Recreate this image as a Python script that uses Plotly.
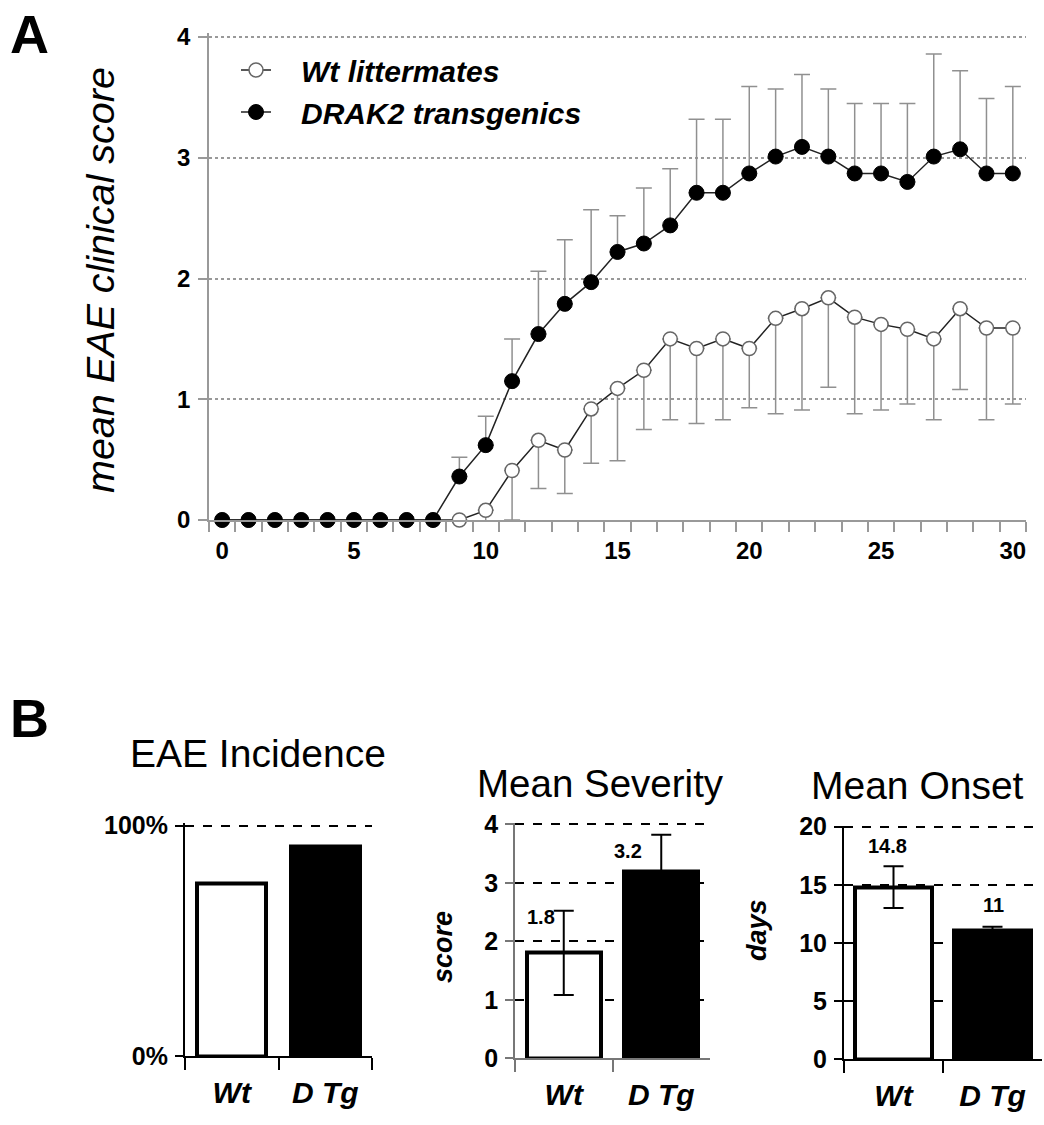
import plotly.graph_objects as go

FONT = "Liberation Sans, Arial, Helvetica, sans-serif"
W, H = 1044, 1125

# ---------------- Panel A data ----------------
days = list(range(31))
wt_mean = [0, 0, 0, 0, 0, 0, 0, 0, 0,
           0.00, 0.08, 0.41, 0.66, 0.58, 0.92, 1.09, 1.24, 1.50, 1.42, 1.50, 1.42,
           1.67, 1.75, 1.84, 1.68, 1.62, 1.58, 1.50, 1.75, 1.59, 1.59]
wt_lower = [None] * 10 + [-0.06, 0.00, 0.26, 0.22, 0.47, 0.49, 0.75, 0.83, 0.80, 0.83, 0.93,
                          0.88, 0.91, 1.10, 0.88, 0.91, 0.96, 0.83, 1.08, 0.83, 0.96]
drak_mean = [0, 0, 0, 0, 0, 0, 0, 0, 0,
             0.36, 0.62, 1.15, 1.54, 1.79, 1.97, 2.22, 2.29, 2.44, 2.71, 2.71, 2.87,
             3.01, 3.09, 3.01, 2.87, 2.87, 2.80, 3.01, 3.07, 2.87, 2.87]
drak_upper = [None] * 9 + [0.52, 0.86, 1.50, 2.06, 2.32, 2.57, 2.52, 2.75, 2.91, 3.32, 3.32, 3.59,
                           3.57, 3.69, 3.57, 3.45, 3.45, 3.45, 3.86, 3.72, 3.49, 3.59]
x_tick_vals = [0, 5, 10, 15, 20, 25, 30]
y_tick_vals_a = [0, 1, 2, 3, 4]

# ---------------- Panel B data ----------------
groups = ["Wt", "D Tg"]
incidence = [75, 91]
severity = [1.8, 3.2]
severity_err = [0.72, 0.62]
severity_labels = ["1.8", "3.2"]
onset = [14.8, 11.1]
onset_err = [1.8, 0.3]
onset_labels = ["14.8", "11"]

wt_minus = [None if lo is None else m - lo for m, lo in zip(wt_mean, wt_lower)]
wt_plus = [None if lo is None else 0 for lo in wt_lower]
drak_plus = [None if up is None else up - m for m, up in zip(drak_mean, drak_upper)]
drak_minus = [None if up is None else 0 for up in drak_upper]

fig = go.Figure()

fig.add_trace(go.Scatter(
    x=days, y=wt_mean, mode="lines+markers", name="&nbsp;&nbsp;&nbsp;Wt littermates",
    line=dict(color="#222222", width=1.5),
    marker=dict(symbol="circle", size=14, color="white", line=dict(color="#666666", width=1.5)),
    error_y=dict(type="data", symmetric=False, array=wt_plus, arrayminus=wt_minus,
                 color="#909090", thickness=1.5, width=8),
    cliponaxis=False, xaxis="x", yaxis="y"))

fig.add_trace(go.Scatter(
    x=days, y=drak_mean, mode="lines+markers", name="&nbsp;&nbsp;&nbsp;DRAK2 transgenics",
    line=dict(color="#222222", width=1.5),
    marker=dict(symbol="circle", size=15, color="black", line=dict(color="black", width=1)),
    error_y=dict(type="data", symmetric=False, array=drak_plus, arrayminus=drak_minus,
                 color="#909090", thickness=1.5, width=8),
    cliponaxis=False, xaxis="x", yaxis="y"))

bar_colors = ["white", "black"]

fig.add_trace(go.Bar(x=groups, y=incidence, width=0.74, showlegend=False,
                     marker=dict(color=bar_colors, line=dict(color="black", width=4)),
                     xaxis="x2", yaxis="y2"))
fig.add_trace(go.Bar(x=groups, y=severity, width=0.76, showlegend=False,
                     marker=dict(color=bar_colors, line=dict(color="black", width=4)),
                     error_y=dict(type="data", array=severity_err, color="black", thickness=2, width=10),
                     xaxis="x3", yaxis="y3"))
fig.add_trace(go.Bar(x=groups, y=onset, width=0.77, showlegend=False,
                     marker=dict(color=bar_colors, line=dict(color="black", width=4)),
                     error_y=dict(type="data", array=onset_err, color="black", thickness=2, width=10),
                     xaxis="x4", yaxis="y4"))


def px_x(p):
    return p / W


def px_y(p):
    return 1 - p / H


tick_font = dict(family=FONT, size=24, color="black", weight="bold")

layout = dict(
    width=W, height=H, margin=dict(l=0, r=0, t=0, b=0, pad=0, autoexpand=False),
    autosize=False,
    plot_bgcolor="white", paper_bgcolor="white",
    bargap=0,
    legend=dict(x=px_x(236), y=px_y(44), xanchor="left", yanchor="top",
                font=dict(family=FONT, size=30, color="black", style="italic", weight="bold"),
                bgcolor="rgba(0,0,0,0)", tracegroupgap=0),
    xaxis=dict(domain=[px_x(209), px_x(1026)], range=[-0.5, 30.5], anchor="y", automargin=False,
               tickvals=x_tick_vals, ticks="", tickfont=tick_font, ticklabelstandoff=8,
               showline=True, linecolor="#999999", linewidth=1.5, showgrid=False, zeroline=False,
               minor=dict(tickvals=[d - 0.5 for d in days] + [30.5], ticks="outside", ticklen=10,
                          tickcolor="#999999", tickwidth=1.5, showgrid=False)),
    yaxis=dict(domain=[px_y(520), px_y(33.4)], range=[0, 4.03], anchor="x", automargin=False,
               tickvals=y_tick_vals_a, ticks="outside", ticklen=9, tickcolor="#999999", tickwidth=1.5,
               tickfont=tick_font, ticklabelstandoff=3,
               showline=True, linecolor="#999999", linewidth=1.5,
               showgrid=True, gridcolor="#999999", griddash="dot", gridwidth=1.5, zeroline=False),
    # B1 incidence
    xaxis2=dict(domain=[px_x(185), px_x(372)], range=[-0.5, 1.5], anchor="y2", type="category",
                automargin=False,
                tickson="boundaries", ticks="outside", ticklen=12, tickwidth=2, tickcolor="black",
                tickfont=dict(family=FONT, size=30, color="black", style="italic", weight="bold"),
                ticklabelstandoff=9,
                showline=True, linecolor="black", linewidth=2, showgrid=False, zeroline=False),
    yaxis2=dict(domain=[px_y(1056), px_y(823.4)], range=[0, 101], anchor="x2", automargin=False,
                tickvals=[0, 100], ticktext=["0%", "100%"], ticks="outside", ticklen=8, tickwidth=2,
                tickcolor="black", tickfont=dict(family=FONT, size=25, color="black", weight="bold"),
                ticklabelstandoff=2,
                showline=True, linecolor="black", linewidth=2,
                showgrid=True, gridcolor="black", griddash="dash", gridwidth=2, zeroline=False),
    # B2 severity
    xaxis3=dict(domain=[px_x(515), px_x(710)], range=[-0.5, 1.5], anchor="y3", type="category",
                automargin=False,
                tickson="boundaries", ticks="outside", ticklen=12, tickwidth=1.5, tickcolor="#777777",
                tickfont=dict(family=FONT, size=30, color="black", style="italic", weight="bold"),
                ticklabelstandoff=9,
                showline=True, linecolor="#777777", linewidth=1.5, showgrid=False, zeroline=False),
    yaxis3=dict(domain=[px_y(1058.3), px_y(822.5)], range=[0, 4.03], anchor="x3", automargin=False,
                tickvals=[0, 1, 2, 3, 4], ticks="outside", ticklen=8, tickwidth=1.5,
                tickcolor="#777777", tickfont=dict(family=FONT, size=25, color="black", weight="bold"),
                ticklabelstandoff=2,
                showline=True, linecolor="#777777", linewidth=1.5,
                showgrid=True, gridcolor="black", griddash="dash", gridwidth=2, zeroline=False),
    # B3 onset
    xaxis4=dict(domain=[px_x(844), px_x(1042)], range=[-0.5, 1.5], anchor="y4", type="category",
                automargin=False,
                tickson="boundaries", ticks="outside", ticklen=12, tickwidth=2, tickcolor="black",
                tickfont=dict(family=FONT, size=30, color="black", style="italic", weight="bold"),
                ticklabelstandoff=9,
                showline=True, linecolor="black", linewidth=2, showgrid=False, zeroline=False),
    yaxis4=dict(domain=[px_y(1059.3), px_y(825.5)], range=[0, 20.1], anchor="x4", automargin=False,
                tickvals=[0, 5, 10, 15, 20], ticks="outside", ticklen=8, tickwidth=2,
                tickcolor="black", tickfont=dict(family=FONT, size=25, color="black", weight="bold"),
                ticklabelstandoff=2,
                showline=True, linecolor="black", linewidth=2,
                showgrid=True, gridcolor="black", griddash="dash", gridwidth=2, zeroline=False),
)
fig.update_layout(**layout)

ann = []


def paper_text(text, x, y, size, bold=False, italic=False, angle=0, xanchor="center"):
    t = text
    if italic:
        t = "<i>" + t + "</i>"
    if bold:
        t = "<b>" + t + "</b>"
    ann.append(dict(text=t, x=px_x(x), y=px_y(y), xref="paper", yref="paper",
                    xanchor=xanchor, yanchor="middle", showarrow=False, textangle=angle,
                    font=dict(family=FONT, size=size, color="black")))


paper_text("A", 8, 34, 54, bold=True, xanchor="left")
paper_text("B", 8, 718, 54, bold=True, xanchor="left")
paper_text("mean EAE clinical score", 100, 280, 39.5, italic=True, angle=-90)
paper_text("EAE Incidence", 258, 753, 39)
paper_text("Mean Severity", 600, 783, 38.5)
paper_text("Mean Onset", 917, 785, 39)
paper_text("score", 443, 947, 27, bold=True, italic=True, angle=-90)
paper_text("days", 757, 930, 27, bold=True, italic=True, angle=-90)

# value labels on panel B bars
sev_shift = [(-23, 0), (-33, 10)]
for g, v, e, lab, (dx, dy) in zip(groups, severity, severity_err, severity_labels, sev_shift):
    ann.append(dict(text="<b>" + lab + "</b>", x=g, y=v + e, xref="x3", yref="y3",
                    xshift=dx, yshift=-(dy) - 6, showarrow=False, xanchor="center", yanchor="middle",
                    font=dict(family=FONT, size=20, color="black")))
on_shift = [(-6, 20), (1, 22)]
for g, v, e, lab, (dx, dy) in zip(groups, onset, onset_err, onset_labels, on_shift):
    ann.append(dict(text="<b>" + lab + "</b>", x=g, y=v + e, xref="x4", yref="y4",
                    xshift=dx, yshift=dy, showarrow=False, xanchor="center", yanchor="middle",
                    font=dict(family=FONT, size=20, color="black")))

fig.update_layout(annotations=ann)

fig.write_html("out.html", config={"displayModeBar": False},
               post_script="document.body.style.margin='0px';document.body.style.padding='0px';")
